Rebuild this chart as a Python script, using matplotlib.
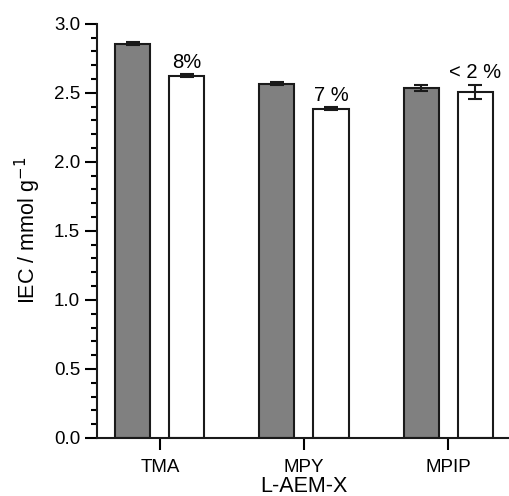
import numpy as np
import matplotlib
matplotlib.use('Agg')
import matplotlib.pyplot as plt
from matplotlib.ticker import MultipleLocator

#=== Data ===#
groups = ["TMA", "MPY", "MPIP"]
iec_before = [2.857, 2.567, 2.534]
err_before = [0.010, 0.010, 0.020]
iec_after = [2.623, 2.384, 2.505]
err_after = [0.010, 0.010, 0.050]
loss_labels = ["8%", "7 %", "< 2 %"]

#=== Style ===#
plt.rcParams['font.family'] = ['Liberation Sans', 'DejaVu Sans']
plt.rcParams['font.size'] = 13.5

fig = plt.figure(figsize=(5.1, 4.96), dpi=100)
ax = fig.add_axes([0.190, 0.117, 0.81, 0.835])

x = np.arange(len(groups))
w = 0.243
off = 0.1875

ax.bar(x - off, iec_before, w, color='#808080', edgecolor='#1a1a1a', linewidth=1.5,
       yerr=err_before, capsize=5, error_kw=dict(elinewidth=1.5, capthick=1.5, ecolor='#1a1a1a'))
ax.bar(x + off, iec_after, w, color='white', edgecolor='#1a1a1a', linewidth=1.5,
       yerr=err_after, capsize=5, error_kw=dict(elinewidth=1.5, capthick=1.5, ecolor='#1a1a1a'))

for xi, v, e, lab in zip(x + off, iec_after, err_after, loss_labels):
    ax.annotate(lab, (xi, v + e), xytext=(0, 2), textcoords='offset points',
                ha='center', va='bottom', fontsize=14.5)

ax.set_xlim(-0.4375, 2.43)
ax.set_ylim(0, 3.0)
ax.yaxis.set_major_locator(MultipleLocator(0.5))
ax.yaxis.set_minor_locator(MultipleLocator(0.1))
ax.set_xticks(x)
ax.set_xticklabels(groups)

for s in ['top', 'right']:
    ax.spines[s].set_visible(False)
for s in ['left', 'bottom']:
    ax.spines[s].set_linewidth(1.5)
    ax.spines[s].set_color('#1a1a1a')

ax.tick_params(axis='y', which='major', direction='out', length=8.5, width=1.5, pad=3.5)
ax.tick_params(axis='y', which='minor', direction='out', length=4.5, width=1.5)
ax.tick_params(axis='x', which='major', direction='out', length=8.5, width=1.5, pad=6.5)

ax.set_ylabel("IEC / mmol g$^{-1}$", fontsize=15.5, labelpad=8)
ax.set_xlabel("L-AEM-X", fontsize=15.5, labelpad=0)

fig.savefig("out.png", dpi=100)
